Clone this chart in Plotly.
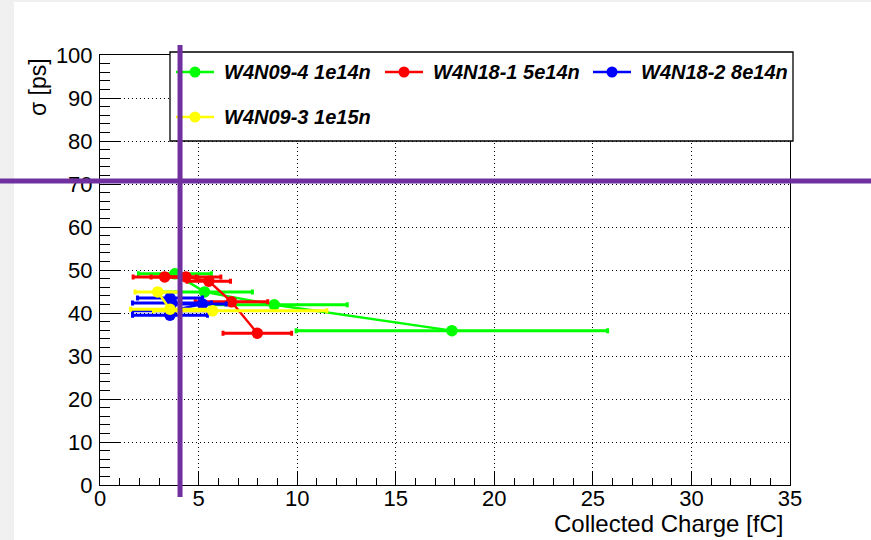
import plotly.graph_objects as go

# Timing resolution vs. collected charge for four irradiated sensors
green_x = [3.80, 5.30, 8.84, 17.85]
green_y = [49.1, 44.9, 41.9, 35.9]
green_ex = [1.85, 2.43, 3.70, 7.90]

red_x = [3.28, 4.36, 5.52, 6.67, 7.98]
red_y = [48.4, 48.4, 47.4, 42.6, 35.3]
red_ex = [1.60, 1.77, 1.10, 1.84, 1.74]

blue_x = [3.55, 3.65, 5.20, 3.60, 3.55]
blue_y = [43.5, 42.3, 42.1, 40.5, 39.5]
blue_ex = [1.65, 2.00, 1.20, 1.95, 1.90]

yellow_x = [2.93, 3.55, 5.71]
yellow_y = [44.9, 40.9, 40.5]
yellow_ex_plus = [1.15, 2.00, 5.80]
yellow_ex_minus = [1.15, 2.00, 3.00]

series_names = ["W4N09-4 1e14n", "W4N18-1 5e14n", "W4N18-2 8e14n", "W4N09-3 1e15n"]
series_colors = ["#00ff00", "#ff0000", "#0000ff", "#ffff00"]

# reference cut lines
cut_charge = 4.06
cut_sigma = 70.7

x_ticks = [0, 5, 10, 15, 20, 25, 30, 35]
y_ticks = [0, 10, 20, 30, 40, 50, 60, 70, 80, 90, 100]

W, H = 871, 540
L, R, T, B = 100, 81, 55, 55
PW, PH = W - L - R, H - T - B


def px_x(p):
    return (p - L) / PW


def px_y(p):
    return (H - B - p) / PH


fig = go.Figure()

data = [
    (green_x, green_y, dict(type="data", array=green_ex, symmetric=True)),
    (red_x, red_y, dict(type="data", array=red_ex, symmetric=True)),
    (blue_x, blue_y, dict(type="data", array=blue_ex, symmetric=True)),
    (yellow_x, yellow_y, dict(type="data", array=yellow_ex_plus,
                              arrayminus=yellow_ex_minus, symmetric=False)),
]
for (xs, ys, ex), name, col in zip(data, series_names, series_colors):
    ex.update(color=col, thickness=3, width=2.5)
    fig.add_trace(go.Scatter(
        x=xs, y=ys, name=name, mode="lines+markers",
        line=dict(color=col, width=2.5),
        marker=dict(color=col, size=11.5, symbol="circle"),
        error_x=ex, showlegend=False, cliponaxis=False,
    ))

shapes = []
# grey canvas border
shapes.append(dict(type="rect", xref="paper", yref="paper",
                   x0=px_x(0), x1=px_x(14), y0=px_y(540), y1=px_y(0),
                   fillcolor="#f0f0f0", line=dict(width=0), layer="below"))
shapes.append(dict(type="rect", xref="paper", yref="paper",
                   x0=px_x(0), x1=px_x(871), y0=px_y(2), y1=px_y(0),
                   fillcolor="#f0f0f0", line=dict(width=0), layer="below"))

# legend box
shapes.append(dict(type="rect", xref="paper", yref="paper",
                   x0=px_x(170), x1=px_x(793), y0=px_y(141), y1=px_y(52),
                   fillcolor="white", line=dict(color="black", width=1.3),
                   layer="above"))

legend_pos = [(195, 72), (404, 72), (612, 72), (195, 117)]
annotations = []
r = 5.5
for (mx, my), name, col in zip(legend_pos, series_names, series_colors):
    shapes.append(dict(type="line", xref="paper", yref="paper",
                       x0=px_x(mx - 19), x1=px_x(mx + 19),
                       y0=px_y(my), y1=px_y(my),
                       line=dict(color=col, width=2.5), layer="above"))
    shapes.append(dict(type="circle", xref="paper", yref="paper",
                       x0=px_x(mx - r), x1=px_x(mx + r),
                       y0=px_y(my + r), y1=px_y(my - r),
                       fillcolor=col, line=dict(color=col, width=0),
                       layer="above"))
    annotations.append(dict(
        x=px_x(mx + 27), y=px_y(my), xref="paper", yref="paper",
        text=name, showarrow=False, xanchor="left", yanchor="middle",
        font=dict(family="Liberation Sans", size=20, color="black",
                  weight="bold", style="italic")))

# cut lines
shapes.append(dict(type="line", xref="x", yref="paper",
                   x0=cut_charge, x1=cut_charge, y0=px_y(497), y1=px_y(45),
                   line=dict(color="#7030a0", width=5), layer="above"))
shapes.append(dict(type="line", xref="paper", yref="y",
                   x0=px_x(0), x1=px_x(871), y0=cut_sigma, y1=cut_sigma,
                   line=dict(color="#7030a0", width=5), layer="above"))

# axis titles
annotations.append(dict(
    x=px_x(785), y=px_y(523), xref="paper", yref="paper",
    text="Collected Charge [fC]", showarrow=False,
    xanchor="right", yanchor="middle",
    font=dict(family="Liberation Sans", size=24, color="black")))
annotations.append(dict(
    x=px_x(38), y=px_y(56), xref="paper", yref="paper",
    text="σ [ps]", showarrow=False, textangle=-90,
    xanchor="center", yanchor="top",
    font=dict(family="Liberation Sans", size=23, color="black")))

axis_common = dict(
    showline=True, linecolor="black", linewidth=1, mirror=True,
    ticks="inside", tickcolor="black", tickwidth=1,
    showgrid=True, gridcolor="black", gridwidth=1, griddash="1px,3px",
    zeroline=False,
    tickfont=dict(family="Liberation Sans", size=22, color="black"),
)

fig.update_layout(
    width=W, height=H,
    margin=dict(l=L, r=R, t=T, b=B, pad=0),
    paper_bgcolor="white", plot_bgcolor="rgba(0,0,0,0)",
    shapes=shapes, annotations=annotations, showlegend=False,
    xaxis=dict(range=[0, 35], tickvals=x_ticks, ticklen=13,
               minor=dict(ticks="inside", dtick=1, ticklen=7,
                          tickcolor="black", showgrid=False),
               ticklabelstandoff=-6, **axis_common),
    yaxis=dict(range=[0, 100], tickvals=y_ticks, ticklen=21,
               minor=dict(ticks="inside", dtick=2, ticklen=10,
                          tickcolor="black", showgrid=False),
               ticklabelstandoff=2, **axis_common),
)

fig.write_html("out.html")
